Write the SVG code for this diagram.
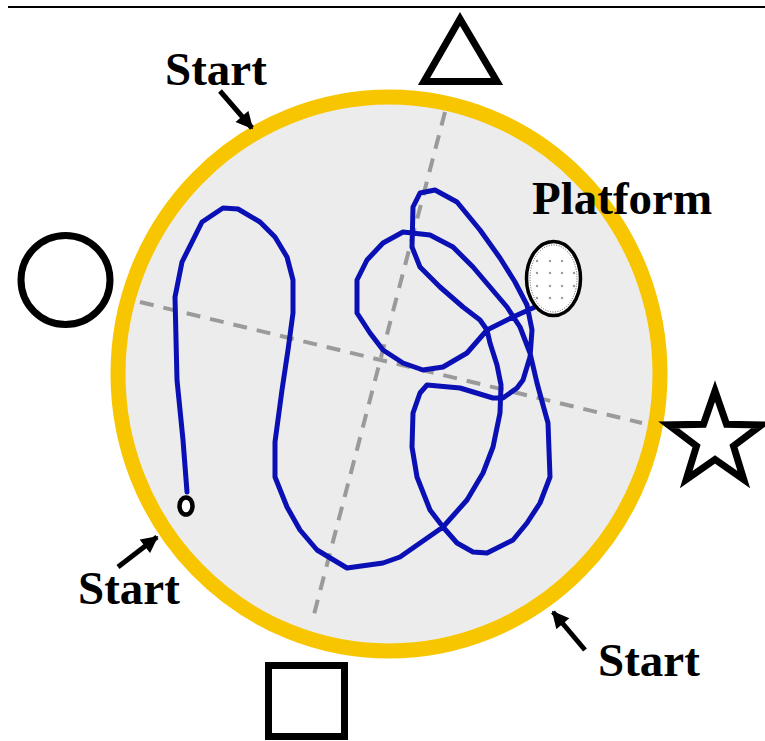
<svg xmlns="http://www.w3.org/2000/svg" width="765" height="741" viewBox="0 0 765 741">
<style>
.lbl{font-family:"Liberation Serif","Times New Roman",serif;font-weight:bold;font-size:47px;fill:#000}
.shape{fill:#fff;stroke:#000;stroke-width:7;stroke-linejoin:miter}
.axis{fill:none;stroke:#9a9a9a;stroke-width:4;stroke-dasharray:14 10}
.track{fill:none;stroke:#0a10b4;stroke-width:5;stroke-linejoin:round;stroke-linecap:round}
.arr{stroke:#000;stroke-width:5;fill:none;marker-end:url(#ah)}
</style>
<defs>
<marker id="ah" viewBox="0 0 10 10" refX="9" refY="5" markerWidth="3.6" markerHeight="3.4" orient="auto" markerUnits="strokeWidth">
<path d="M0,0 L10,5 L0,10 Z" fill="#000"/>
</marker>
</defs>
<rect width="765" height="741" fill="#fff"/>
<line x1="8" y1="7" x2="765" y2="7" stroke="#000" stroke-width="2"/>
<g id="pool">
<ellipse cx="389" cy="374" rx="271" ry="277" fill="#ececec" stroke="#f8c600" stroke-width="15"/>
</g>
<g id="axes">
<line class="axis" x1="140" y1="302" x2="642" y2="423"/>
<line class="axis" x1="445" y1="112" x2="312" y2="622"/>
</g>
<g id="track">
<path class="track" d="M187,492 L183,440 L177,380 L175,297 L182,262 L202,222 L223,208 L238,209 L260,222 L275,237 L287,257 L293,280 L293,313 L288,350 L282,390 L275,442 L275,477 L287,507 L300,530 L317,550 L347,568 L383,563 L400,557 L443,527 L467,500 L483,473 L493,447 L500,413 L501,385 L497,365 L490,343 L487,330 L480,320 L463,307 L440,287 L420,267 L412,247 L413,207 L420,193 L435,190 L457,202 L480,230 L500,258 L515,282 L527,305 L532,330 L530,357 L523,380 L517,388 L503,398 L493,398 L460,388 L427,385 L420,393 L413,413 L412,447 L417,477 L430,510 L443,527 L457,543 L473,552 L487,553 L513,540 L527,523 L540,503 L550,477 L548,423 L543,405 L537,383 L530,353 L520,327 L507,307 L490,287 L473,267 L453,247 L430,235 L403,232 L383,243 L367,260 L357,280 L357,313 L370,333 L383,350 L403,363 L423,370 L443,367 L467,353 L487,330 L513,317 L535,307"/>
<ellipse cx="186" cy="506" rx="6.5" ry="8.5" fill="#fff" stroke="#000" stroke-width="4.5"/>
</g>
<g id="platform">
<ellipse cx="553.5" cy="278.5" rx="27" ry="37" fill="#fff" stroke="#000" stroke-width="3.5"/>
<ellipse cx="553.5" cy="278.5" rx="23.5" ry="33.5" fill="none" stroke="#555" stroke-width="1" stroke-dasharray="1 1.5"/>
<g fill="#999">
<circle cx="537" cy="261" r="1.2"/><circle cx="550" cy="261" r="1.2"/><circle cx="562" cy="261" r="1.2"/>
<circle cx="537" cy="273" r="1.2"/><circle cx="550" cy="273" r="1.2"/><circle cx="562" cy="273" r="1.2"/><circle cx="574" cy="273" r="1.2"/>
<circle cx="537" cy="286" r="1.2"/><circle cx="550" cy="286" r="1.2"/><circle cx="562" cy="286" r="1.2"/><circle cx="574" cy="286" r="1.2"/>
<circle cx="537" cy="298" r="1.2"/><circle cx="550" cy="298" r="1.2"/><circle cx="562" cy="298" r="1.2"/>
</g>
<text class="lbl" x="532" y="214">Platform</text>
</g>
<g id="cue-triangle"><polygon class="shape" points="460,19 424,81.5 497,81.5"/></g>
<g id="cue-circle"><circle class="shape" cx="65.5" cy="280" r="44.5" stroke-width="6.5"/></g>
<g id="cue-square"><rect class="shape" x="268.5" y="665.5" width="76" height="71"/></g>
<g id="cue-star"><polygon class="shape" points="715,391 726.5,424.2 761.6,424.9 733.5,446 743.8,479.6 715,459.5 686.2,479.6 696.5,446 668.4,424.9 703.5,424.2"/></g>
<g id="start-top">
<text class="lbl" x="165" y="85">Start</text>
</g>
<g id="start-bl">
<text class="lbl" x="78" y="604">Start</text>
</g>
<g id="start-br">
<text class="lbl" x="598" y="676">Start</text>
</g>
<g id="connectors">
<line class="arr" x1="220" y1="91" x2="252" y2="128"/>
<line class="arr" x1="118" y1="567" x2="157" y2="537"/>
<line class="arr" x1="585" y1="650" x2="553" y2="612"/>
</g>
</svg>
